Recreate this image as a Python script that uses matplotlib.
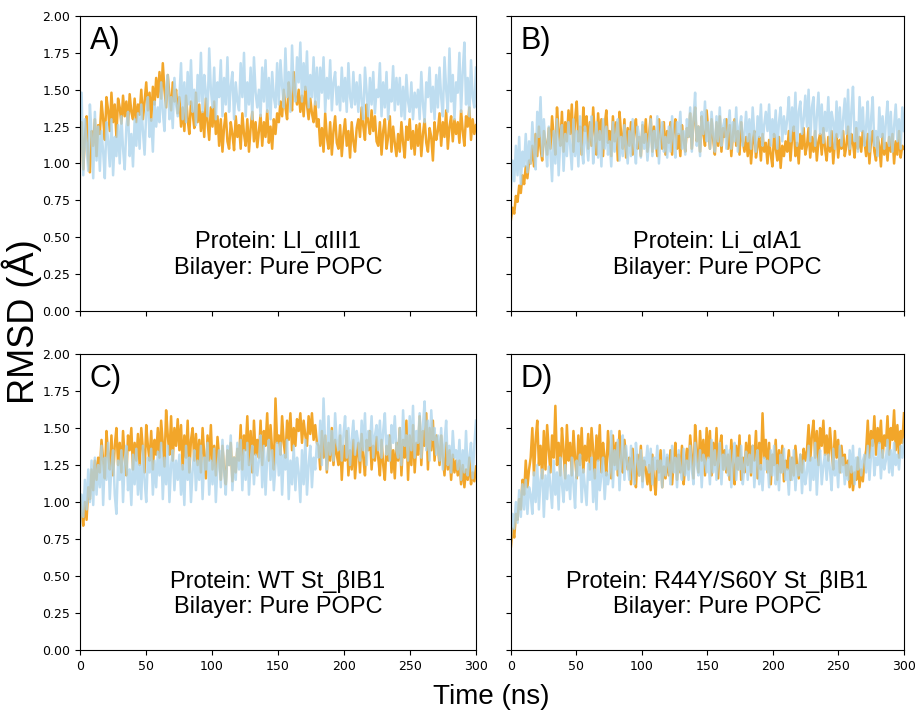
import numpy as np
import matplotlib
matplotlib.use("Agg")
import matplotlib.pyplot as plt

# RMSD traces (Angstrom), 240 samples over 0-300 ns

a_orange = [
    1.10, 1.28, 0.96, 1.18, 1.32, 1.02, 0.94, 1.22, 1.12, 1.30, 1.05, 1.26,
    1.20, 1.42, 1.30, 1.16, 1.45, 1.36, 1.22, 1.48, 1.28, 1.40, 1.18, 1.44,
    1.38, 1.27, 1.46, 1.32, 1.42, 1.26, 1.47, 1.35, 1.30, 1.44, 1.28, 1.40,
    1.33, 1.50, 1.30, 1.42, 1.55, 1.36, 1.48, 1.29, 1.52, 1.40, 1.58, 1.45,
    1.62, 1.44, 1.68, 1.50, 1.38, 1.60, 1.46, 1.36, 1.55, 1.42, 1.50, 1.34,
    1.45, 1.25, 1.38, 1.22, 1.46, 1.30, 1.20, 1.42, 1.34, 1.24, 1.48, 1.28,
    1.40, 1.22, 1.35, 1.18, 1.44, 1.28, 1.16, 1.38, 1.25, 1.42, 1.20, 1.32,
    1.12, 1.30, 1.08, 1.25, 1.34, 1.15, 1.10, 1.28, 1.20, 1.09, 1.32, 1.18,
    1.26, 1.10, 1.34, 1.20, 1.12, 1.30, 1.08, 1.24, 1.35, 1.15, 1.28, 1.11,
    1.22, 1.33, 1.12, 1.28, 1.18, 1.36, 1.14, 1.25, 1.10, 1.30, 1.20, 1.34,
    1.28, 1.42, 1.32, 1.50, 1.38, 1.30, 1.55, 1.44, 1.36, 1.62, 1.46, 1.40,
    1.50, 1.35, 1.46, 1.32, 1.52, 1.40, 1.30, 1.44, 1.34, 1.28, 1.42, 1.25,
    1.30, 1.12, 1.24, 1.08, 1.34, 1.18, 1.10, 1.28, 1.06, 1.22, 1.32, 1.14,
    1.10, 1.26, 1.05, 1.20, 1.30, 1.12, 1.22, 1.04, 1.28, 1.15, 1.08, 1.24,
    1.30, 1.18, 1.38, 1.25, 1.16, 1.40, 1.28, 1.20, 1.36, 1.22, 1.32, 1.15,
    1.12, 1.28, 1.06, 1.22, 1.30, 1.10, 1.18, 1.32, 1.08, 1.25, 1.14, 1.05,
    1.20, 1.08, 1.28, 1.14, 1.04, 1.25, 1.16, 1.30, 1.10, 1.22, 1.06, 1.26,
    1.12, 1.27, 1.05, 1.20, 1.30, 1.14, 1.08, 1.24, 1.18, 1.02, 1.28, 1.16,
    1.22, 1.34, 1.12, 1.28, 1.18, 1.36, 1.10, 1.25, 1.32, 1.15, 1.30, 1.20,
    1.28, 1.14, 1.36, 1.22, 1.12, 1.32, 1.25, 1.38, 1.16, 1.30, 1.20, 1.26]
a_blue = [
    1.05, 1.48, 0.92, 1.30, 1.12, 0.95, 1.40, 1.20, 0.90, 1.35, 1.02, 1.25,
    0.95, 1.22, 1.08, 0.90, 1.28, 1.15, 0.98, 1.30, 0.92, 1.18, 1.05, 1.26,
    1.00, 1.32, 1.10, 0.96, 1.25, 1.35, 1.05, 1.20, 0.98, 1.30, 1.12, 1.34,
    1.10, 1.40, 1.22, 1.06, 1.35, 1.45, 1.18, 1.30, 1.08, 1.42, 1.25, 1.38,
    1.28, 1.55, 1.35, 1.22, 1.50, 1.60, 1.30, 1.45, 1.24, 1.58, 1.40, 1.32,
    1.45, 1.68, 1.30, 1.55, 1.28, 1.62, 1.40, 1.70, 1.35, 1.50, 1.26, 1.60,
    1.42, 1.75, 1.35, 1.60, 1.48, 1.32, 1.78, 1.50, 1.38, 1.65, 1.30, 1.55,
    1.45, 1.70, 1.32, 1.58, 1.40, 1.72, 1.35, 1.52, 1.62, 1.30, 1.55, 1.42,
    1.36, 1.68, 1.45, 1.75, 1.32, 1.55, 1.40, 1.65, 1.30, 1.72, 1.48, 1.38,
    1.50, 1.32, 1.65, 1.42, 1.70, 1.35, 1.58, 1.30, 1.62, 1.45, 1.38, 1.68,
    1.40, 1.70, 1.52, 1.38, 1.78, 1.45, 1.62, 1.35, 1.80, 1.50, 1.42, 1.72,
    1.55, 1.82, 1.42, 1.68, 1.50, 1.76, 1.38, 1.60, 1.45, 1.72, 1.40, 1.65,
    1.38, 1.65, 1.48, 1.72, 1.35, 1.58, 1.44, 1.70, 1.36, 1.55, 1.62, 1.40,
    1.52, 1.36, 1.65, 1.42, 1.58, 1.35, 1.68, 1.45, 1.38, 1.62, 1.40, 1.55,
    1.35, 1.60, 1.42, 1.30, 1.65, 1.48, 1.32, 1.58, 1.40, 1.62, 1.34, 1.50,
    1.45, 1.68, 1.32, 1.55, 1.38, 1.62, 1.30, 1.50, 1.42, 1.66, 1.36, 1.58,
    1.40, 1.58, 1.32, 1.52, 1.30, 1.60, 1.42, 1.35, 1.55, 1.30, 1.48, 1.38,
    1.50, 1.30, 1.62, 1.40, 1.28, 1.55, 1.45, 1.65, 1.35, 1.52, 1.30, 1.60,
    1.38, 1.65, 1.45, 1.32, 1.72, 1.50, 1.35, 1.78, 1.42, 1.60, 1.30, 1.55,
    1.48, 1.75, 1.35, 1.62, 1.82, 1.40, 1.58, 1.32, 1.70, 1.45, 1.38, 1.65]

b_orange = [
    0.62, 0.70, 0.66, 0.78, 0.74, 0.85, 0.80, 0.92, 0.86, 0.98, 0.90, 1.02,
    1.00, 1.12, 0.98, 1.20, 1.05, 1.25, 1.10, 1.02, 1.22, 1.14, 1.06, 1.24,
    1.10, 1.32, 1.18, 1.06, 1.38, 1.22, 1.12, 1.35, 1.08, 1.28, 1.15, 1.36,
    1.20, 1.40, 1.08, 1.30, 1.42, 1.15, 1.25, 1.06, 1.38, 1.22, 1.32, 1.10,
    1.28, 1.12, 1.38, 1.20, 1.06, 1.34, 1.16, 1.30, 1.05, 1.26, 1.36, 1.14,
    1.22, 1.05, 1.32, 1.15, 1.28, 1.02, 1.35, 1.20, 1.10, 1.30, 1.04, 1.24,
    1.12, 1.28, 1.06, 1.22, 1.30, 1.10, 1.18, 1.05, 1.26, 1.14, 1.30, 1.08,
    1.20, 1.32, 1.08, 1.25, 1.15, 1.05, 1.30, 1.18, 1.10, 1.28, 1.06, 1.22,
    1.14, 1.28, 1.06, 1.22, 1.30, 1.10, 1.20, 1.05, 1.26, 1.16, 1.08, 1.24,
    1.18, 1.34, 1.10, 1.28, 1.38, 1.15, 1.25, 1.08, 1.32, 1.20, 1.12, 1.36,
    1.22, 1.10, 1.30, 1.16, 1.06, 1.28, 1.12, 1.32, 1.08, 1.24, 1.18, 1.30,
    1.10, 1.26, 1.05, 1.20, 1.30, 1.12, 1.22, 1.06, 1.28, 1.15, 1.08, 1.18,
    1.05, 1.20, 1.00, 1.15, 1.22, 1.04, 1.12, 1.18, 1.02, 1.20, 1.08, 1.14,
    1.00, 1.16, 1.06, 0.98, 1.20, 1.10, 1.02, 1.18, 0.97, 1.12, 1.05, 1.15,
    1.08, 1.22, 1.02, 1.18, 1.25, 1.05, 1.14, 1.00, 1.20, 1.10, 1.24, 1.06,
    1.12, 1.24, 1.04, 1.18, 1.08, 1.22, 1.02, 1.15, 1.20, 1.06, 1.24, 1.10,
    1.02, 1.18, 1.08, 1.22, 1.00, 1.14, 1.20, 1.04, 1.16, 1.10, 1.22, 1.05,
    1.12, 1.25, 1.06, 1.20, 1.14, 1.04, 1.24, 1.10, 1.18, 1.08, 1.22, 1.15,
    1.05, 1.20, 1.00, 1.16, 1.22, 1.08, 1.02, 1.18, 1.12, 0.98, 1.20, 1.06,
    1.14, 1.02, 1.18, 1.08, 1.20, 1.00, 1.15, 1.06, 1.22, 1.04, 1.12, 1.10]
b_blue = [
    0.82, 1.02, 0.88, 1.12, 0.92, 1.18, 0.86, 1.08, 0.98, 1.20, 0.94, 1.15,
    1.00, 1.28, 1.10, 0.96, 1.35, 1.18, 1.45, 1.05, 1.30, 1.12, 0.98, 1.25,
    1.08, 0.88, 1.22, 1.00, 1.30, 0.92, 1.15, 1.26, 0.95, 1.20, 1.05, 1.28,
    1.12, 0.96, 1.30, 1.05, 1.22, 0.98, 1.32, 1.10, 1.00, 1.25, 1.15, 1.02,
    1.20, 1.32, 1.00, 1.15, 1.28, 1.04, 1.22, 0.98, 1.30, 1.10, 1.25, 1.06,
    1.15, 0.98, 1.28, 1.08, 1.20, 1.30, 1.02, 1.18, 1.05, 1.26, 1.12, 1.00,
    1.22, 1.05, 1.30, 1.12, 1.00, 1.25, 1.18, 1.04, 1.28, 1.10, 1.20, 1.02,
    1.15, 1.30, 1.05, 1.22, 1.10, 1.32, 1.00, 1.20, 1.28, 1.08, 1.18, 1.04,
    1.25, 1.08, 1.32, 1.15, 1.04, 1.28, 1.20, 1.35, 1.10, 1.22, 1.06, 1.30,
    1.18, 1.38, 1.08, 1.30, 1.48, 1.12, 1.25, 1.05, 1.35, 1.20, 1.42, 1.15,
    1.28, 1.10, 1.35, 1.20, 1.08, 1.32, 1.15, 1.38, 1.12, 1.25, 1.30, 1.10,
    1.22, 1.36, 1.10, 1.28, 1.15, 1.38, 1.08, 1.25, 1.32, 1.12, 1.20, 1.35,
    1.15, 1.30, 1.10, 1.38, 1.20, 1.08, 1.32, 1.18, 1.40, 1.12, 1.26, 1.35,
    1.22, 1.40, 1.12, 1.30, 1.18, 1.36, 1.10, 1.28, 1.38, 1.15, 1.32, 1.20,
    1.30, 1.45, 1.15, 1.38, 1.22, 1.48, 1.12, 1.35, 1.42, 1.20, 1.30, 1.46,
    1.25, 1.50, 1.15, 1.38, 1.45, 1.12, 1.32, 1.48, 1.20, 1.40, 1.14, 1.35,
    1.22, 1.45, 1.12, 1.35, 1.28, 1.10, 1.42, 1.18, 1.38, 1.12, 1.30, 1.44,
    1.20, 1.50, 1.10, 1.35, 1.52, 1.15, 1.28, 1.08, 1.45, 1.22, 1.38, 1.12,
    1.25, 1.42, 1.08, 1.30, 1.45, 1.12, 1.22, 1.05, 1.38, 1.18, 1.32, 1.10,
    1.28, 1.42, 1.12, 1.35, 1.08, 1.25, 1.40, 1.15, 1.30, 1.10, 1.38, 1.22]

c_orange = [
    1.05, 0.92, 0.84, 1.00, 0.88, 1.10, 1.02, 1.22, 1.08, 1.28, 1.15, 1.30,
    1.20, 1.42, 1.28, 1.16, 1.48, 1.32, 1.22, 1.45, 1.18, 1.38, 1.50, 1.25,
    1.40, 1.20, 1.48, 1.30, 1.18, 1.45, 1.35, 1.50, 1.22, 1.40, 1.28, 1.46,
    1.25, 1.50, 1.35, 1.20, 1.52, 1.38, 1.28, 1.48, 1.22, 1.42, 1.32, 1.50,
    1.30, 1.55, 1.40, 1.24, 1.62, 1.45, 1.32, 1.58, 1.28, 1.50, 1.38, 1.56,
    1.35, 1.52, 1.22, 1.45, 1.30, 1.55, 1.20, 1.42, 1.50, 1.28, 1.46, 1.25,
    1.42, 1.20, 1.50, 1.32, 1.16, 1.45, 1.28, 1.52, 1.22, 1.38, 1.18, 1.44,
    1.30, 1.15, 1.38, 1.22, 1.12, 1.35, 1.25, 1.40, 1.14, 1.30, 1.20, 1.36,
    1.28, 1.52, 1.22, 1.45, 1.35, 1.58, 1.25, 1.48, 1.20, 1.55, 1.32, 1.42,
    1.30, 1.55, 1.25, 1.48, 1.38, 1.60, 1.28, 1.52, 1.35, 1.22, 1.70, 1.40,
    1.45, 1.32, 1.58, 1.40, 1.30, 1.55, 1.42, 1.60, 1.35, 1.50, 1.38, 1.56,
    1.48, 1.60, 1.40, 1.55, 1.45, 1.38, 1.58, 1.46, 1.60, 1.42, 1.52, 1.40,
    1.38, 1.22, 1.48, 1.30, 1.45, 1.20, 1.40, 1.28, 1.50, 1.25, 1.42, 1.32,
    1.25, 1.45, 1.15, 1.38, 1.28, 1.48, 1.18, 1.35, 1.22, 1.42, 1.16, 1.32,
    1.40, 1.20, 1.46, 1.30, 1.18, 1.42, 1.35, 1.48, 1.22, 1.38, 1.28, 1.44,
    1.30, 1.18, 1.42, 1.25, 1.15, 1.38, 1.28, 1.45, 1.20, 1.35, 1.16, 1.40,
    1.28, 1.50, 1.18, 1.42, 1.30, 1.55, 1.15, 1.45, 1.25, 1.52, 1.20, 1.40,
    1.32, 1.58, 1.25, 1.48, 1.38, 1.60, 1.22, 1.50, 1.35, 1.55, 1.28, 1.45,
    1.38, 1.25, 1.45, 1.30, 1.18, 1.40, 1.22, 1.35, 1.15, 1.32, 1.20, 1.28,
    1.18, 1.28, 1.12, 1.25, 1.10, 1.22, 1.15, 1.30, 1.12, 1.20, 1.14, 1.24]
c_blue = [
    0.82, 1.05, 0.90, 1.15, 0.95, 1.22, 1.00, 1.28, 0.98, 1.30, 1.05, 1.25,
    1.10, 1.38, 0.98, 1.30, 1.15, 1.40, 1.02, 1.25, 1.35, 1.05, 0.92, 1.28,
    1.15, 1.35, 1.00, 1.28, 1.38, 1.08, 1.22, 0.98, 1.32, 1.12, 1.36, 1.05,
    1.25, 1.02, 1.38, 1.15, 1.00, 1.30, 1.20, 1.36, 1.05, 1.28, 1.10, 1.34,
    1.18, 1.40, 1.02, 1.30, 1.12, 1.38, 1.00, 1.25, 1.35, 1.08, 1.28, 1.15,
    1.32, 1.05, 1.25, 0.98, 1.38, 1.15, 1.30, 1.00, 1.22, 1.35, 1.08, 1.28,
    1.15, 1.38, 1.02, 1.30, 1.22, 1.40, 1.05, 1.28, 1.12, 1.36, 1.00, 1.25,
    1.35, 1.10, 1.42, 1.20, 1.05, 1.38, 1.25, 1.45, 1.08, 1.30, 1.15, 1.40,
    1.22, 1.42, 1.08, 1.35, 1.15, 1.40, 1.05, 1.28, 1.38, 1.12, 1.32, 1.18,
    1.28, 1.45, 1.10, 1.38, 1.05, 1.30, 1.42, 1.15, 1.35, 1.08, 1.25, 1.40,
    1.18, 1.40, 1.05, 1.32, 1.22, 1.42, 1.02, 1.28, 1.12, 1.38, 1.08, 1.30,
    1.20, 1.00, 1.35, 1.12, 1.42, 1.05, 1.25, 1.38, 1.10, 1.30, 1.22, 1.40,
    1.30, 1.55, 1.25, 1.70, 1.38, 1.22, 1.58, 1.32, 1.48, 1.28, 1.60, 1.40,
    1.35, 1.52, 1.28, 1.45, 1.58, 1.30, 1.50, 1.25, 1.42, 1.55, 1.32, 1.48,
    1.40, 1.28, 1.55, 1.35, 1.60, 1.25, 1.48, 1.38, 1.58, 1.30, 1.45, 1.52,
    1.35, 1.55, 1.30, 1.48, 1.60, 1.32, 1.45, 1.28, 1.52, 1.40, 1.58, 1.35,
    1.30, 1.50, 1.25, 1.62, 1.38, 1.45, 1.28, 1.58, 1.35, 1.65, 1.30, 1.48,
    1.40, 1.60, 1.30, 1.52, 1.68, 1.35, 1.55, 1.28, 1.62, 1.42, 1.50, 1.32,
    1.45, 1.28, 1.50, 1.22, 1.40, 1.55, 1.25, 1.38, 1.20, 1.48, 1.30, 1.35,
    1.22, 1.42, 1.15, 1.35, 1.20, 1.48, 1.18, 1.30, 1.40, 1.16, 1.38, 1.55]

d_orange = [
    0.70, 0.82, 0.76, 0.92, 0.88, 1.02, 0.95, 1.15, 1.05, 1.28, 1.10, 1.22,
    1.30, 1.50, 1.18, 1.42, 1.55, 1.25, 1.38, 1.16, 1.48, 1.22, 1.52, 1.35,
    1.20, 1.45, 1.30, 1.65, 1.25, 1.40, 1.18, 1.50, 1.35, 1.16, 1.52, 1.28,
    1.40, 1.18, 1.48, 1.30, 1.16, 1.45, 1.25, 1.50, 1.20, 1.38, 1.28, 1.46,
    1.22, 1.50, 1.35, 1.16, 1.45, 1.28, 1.52, 1.20, 1.40, 1.30, 1.18, 1.48,
    1.32, 1.16, 1.45, 1.25, 1.40, 1.18, 1.48, 1.28, 1.20, 1.42, 1.30, 1.22,
    1.30, 1.12, 1.36, 1.20, 1.10, 1.32, 1.18, 1.38, 1.14, 1.28, 1.22, 1.12,
    1.25, 1.08, 1.32, 1.15, 1.05, 1.28, 1.20, 1.35, 1.10, 1.24, 1.16, 1.30,
    1.18, 1.35, 1.12, 1.28, 1.40, 1.15, 1.32, 1.20, 1.38, 1.12, 1.25, 1.36,
    1.22, 1.45, 1.30, 1.16, 1.52, 1.35, 1.20, 1.48, 1.28, 1.42, 1.18, 1.50,
    1.30, 1.48, 1.18, 1.40, 1.25, 1.50, 1.16, 1.38, 1.45, 1.22, 1.35, 1.20,
    1.32, 1.15, 1.42, 1.25, 1.12, 1.38, 1.22, 1.45, 1.15, 1.30, 1.20, 1.40,
    1.25, 1.45, 1.18, 1.38, 1.28, 1.48, 1.16, 1.40, 1.22, 1.60, 1.30, 1.42,
    1.20, 1.40, 1.12, 1.32, 1.25, 1.42, 1.15, 1.35, 1.20, 1.38, 1.14, 1.28,
    1.22, 1.35, 1.15, 1.30, 1.18, 1.38, 1.25, 1.16, 1.32, 1.20, 1.36, 1.28,
    1.35, 1.52, 1.28, 1.45, 1.55, 1.30, 1.48, 1.25, 1.50, 1.38, 1.55, 1.32,
    1.45, 1.28, 1.50, 1.35, 1.22, 1.48, 1.30, 1.42, 1.20, 1.38, 1.25, 1.32,
    1.18, 1.28, 1.10, 1.24, 1.08, 1.20, 1.15, 1.30, 1.10, 1.22, 1.14, 1.28,
    1.35, 1.55, 1.30, 1.48, 1.38, 1.58, 1.32, 1.50, 1.40, 1.55, 1.30, 1.45,
    1.38, 1.58, 1.32, 1.50, 1.42, 1.62, 1.35, 1.52, 1.30, 1.48, 1.40, 1.60]
d_blue = [
    0.75, 0.92, 0.82, 1.00, 0.86, 1.08, 0.90, 1.12, 0.95, 1.15, 0.92, 1.10,
    1.05, 0.92, 1.20, 1.00, 1.25, 0.95, 1.15, 1.22, 0.90, 1.18, 1.02, 1.24,
    1.10, 0.96, 1.28, 1.05, 1.20, 0.95, 1.30, 1.12, 1.00, 1.25, 1.08, 1.18,
    1.02, 1.30, 1.12, 0.96, 1.28, 1.18, 1.32, 1.00, 1.22, 1.10, 0.98, 1.26,
    1.15, 1.30, 1.00, 1.22, 0.95, 1.28, 1.08, 1.18, 1.30, 1.02, 1.20, 1.12,
    1.20, 1.48, 1.10, 1.35, 1.22, 1.42, 1.08, 1.30, 1.45, 1.15, 1.38, 1.25,
    1.15, 1.38, 1.22, 1.12, 1.40, 1.28, 1.18, 1.35, 1.10, 1.30, 1.25, 1.38,
    1.20, 1.36, 1.12, 1.30, 1.22, 1.38, 1.15, 1.28, 1.10, 1.35, 1.18, 1.32,
    1.25, 1.12, 1.38, 1.20, 1.30, 1.10, 1.35, 1.22, 1.15, 1.36, 1.18, 1.28,
    1.15, 1.38, 1.22, 1.12, 1.40, 1.25, 1.18, 1.35, 1.10, 1.32, 1.28, 1.20,
    1.30, 1.12, 1.42, 1.20, 1.35, 1.15, 1.28, 1.40, 1.12, 1.32, 1.22, 1.38,
    1.18, 1.35, 1.10, 1.28, 1.40, 1.15, 1.30, 1.22, 1.38, 1.12, 1.25, 1.34,
    1.15, 1.32, 1.20, 1.38, 1.10, 1.28, 1.35, 1.12, 1.25, 1.08, 1.30, 1.22,
    1.28, 1.10, 1.35, 1.18, 1.38, 1.12, 1.25, 1.08, 1.32, 1.20, 1.36, 1.15,
    1.22, 1.05, 1.30, 1.15, 1.35, 1.08, 1.25, 1.18, 1.32, 1.06, 1.28, 1.12,
    1.20, 1.38, 1.08, 1.30, 1.15, 1.40, 1.05, 1.28, 1.35, 1.12, 1.25, 1.32,
    1.15, 1.32, 1.22, 1.08, 1.36, 1.18, 1.28, 1.10, 1.38, 1.20, 1.30, 1.12,
    1.25, 1.15, 1.35, 1.20, 1.38, 1.12, 1.30, 1.22, 1.36, 1.18, 1.28, 1.32,
    1.20, 1.38, 1.15, 1.32, 1.42, 1.18, 1.30, 1.25, 1.40, 1.16, 1.35, 1.22,
    1.28, 1.42, 1.20, 1.35, 1.18, 1.40, 1.25, 1.32, 1.22, 1.38, 1.30, 1.42]

panel_letters = ["A)", "B)", "C)", "D)"]
proteins = ["Ll_\u03b1III1", "Li_\u03b1IA1", "WT St_\u03b2IB1", "R44Y/S60Y St_\u03b2IB1"]
bilayer = "Pure POPC"
series = [(a_orange, a_blue), (b_orange, b_blue), (c_orange, c_blue), (d_orange, d_blue)]

orange = "#F2A62A"
blue = "#ACD4EC"

fig = plt.figure(figsize=(9.18, 7.17), dpi=100)
boxes = [
    [0.0871, 0.5663, 0.4314, 0.4114],
    [0.5566, 0.5663, 0.4281, 0.4114],
    [0.0871, 0.0934, 0.4314, 0.4128],
    [0.5566, 0.0934, 0.4281, 0.4128],
]
text_x = [0.5, 0.524, 0.5, 0.524]

for i, box in enumerate(boxes):
    ax = fig.add_axes(box)
    y_or, y_bl = series[i]
    t_or = np.linspace(0, 300, len(y_or))
    t_bl = np.linspace(0, 300, len(y_bl))
    ax.plot(t_or, y_or, color=orange, lw=1.8)
    ax.plot(t_bl, y_bl, color=blue, lw=1.8, alpha=0.78)
    ax.set_xlim(0, 300)
    ax.set_ylim(0, 2.0)
    ax.set_xticks([0, 50, 100, 150, 200, 250, 300])
    ax.set_yticks([0, 0.25, 0.5, 0.75, 1.0, 1.25, 1.5, 1.75, 2.0])
    ax.tick_params(labelsize=9)
    if i < 2:
        ax.tick_params(labelbottom=False)
    if i % 2 == 1:
        ax.tick_params(labelleft=False)
    else:
        ax.set_yticklabels([f"{v:.2f}" for v in ax.get_yticks()])
    ax.text(0.025, 0.965, panel_letters[i], transform=ax.transAxes,
            ha="left", va="top", fontsize=22, family="Liberation Sans")
    ax.text(text_x[i], 0.19, f"Protein: {proteins[i]}\nBilayer: {bilayer}",
            transform=ax.transAxes, ha="center", va="center", fontsize=17,
            family=["Liberation Sans", "DejaVu Sans"], multialignment="center")

fig.text(0.024, 0.552, "RMSD (\u00c5)", rotation=90, ha="center", va="center",
         fontsize=26, family="Liberation Sans")
fig.text(0.535, 0.028, "Time (ns)", ha="center", va="center",
         fontsize=20, family="Liberation Sans")

fig.savefig("out.png", dpi=100)
